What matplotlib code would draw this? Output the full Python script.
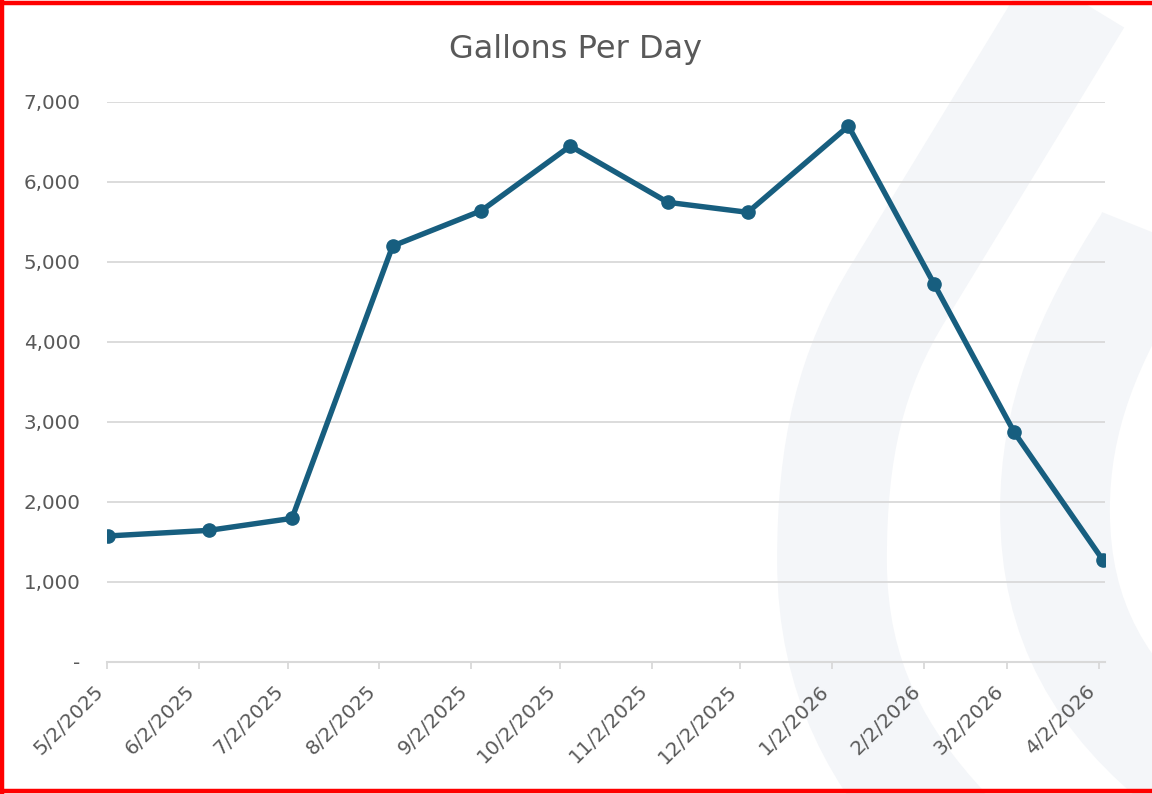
import numpy as np
import pandas as pd
import matplotlib
matplotlib.use('Agg')
import matplotlib.pyplot as plt
from matplotlib.path import Path
from matplotlib.patches import PathPatch
from matplotlib.lines import Line2D
import matplotlib.transforms as mtransforms
from matplotlib.ticker import FuncFormatter

# data
read_dates = ['5/2/2025', '6/5/2025', '7/3/2025', '8/6/2025', '9/5/2025', '10/5/2025',
              '11/7/2025', '12/4/2025', '1/7/2026', '2/5/2026', '3/4/2026', '4/3/2026']
gallons = [1572, 1642, 1792, 5196, 5638, 6446, 5742, 5617, 6696, 4717, 2868, 1268]
tick_dates = ['5/2/2025', '6/2/2025', '7/2/2025', '8/2/2025', '9/2/2025', '10/2/2025',
              '11/2/2025', '12/2/2025', '1/2/2026', '2/2/2026', '3/2/2026', '4/2/2026']
y_ticks = [0, 1000, 2000, 3000, 4000, 5000, 6000, 7000]

grey_txt = '#595959'
grid_c = '#d9d9d9'
line_c = '#175e7f'
W, H = 1152, 794

fig = plt.figure(figsize=(W / 100, H / 100), dpi=100)
fig.patch.set_facecolor('white')

# faint logo watermark behind the chart (figure pixel coords, y down)
def px(x, y):
    return (x / W, 1 - y / H)

bands = [
    [(1095, -30), (900, 290), (850, 370), (832, 450), (832, 560), (832, 680), (880, 760), (945, 830)],
    [(1270, -60), (1150, 240), (1085, 340), (1055, 420), (1055, 510), (1055, 620), (1100, 700), (1190, 770)],
]
codes = [Path.MOVETO, Path.LINETO, Path.CURVE4, Path.CURVE4, Path.CURVE4,
         Path.CURVE4, Path.CURVE4, Path.CURVE4]
for b in bands:
    p = Path([px(*v) for v in b], codes)
    fig.patches.append(PathPatch(p, transform=fig.transFigure, fill=False,
                                 edgecolor='#f4f6f9', linewidth=79, capstyle='butt',
                                 zorder=-5))

ax = fig.add_axes([107 / W, 1 - 661.7 / H, (1104.5 - 107) / W, (661.7 - 101.7) / H])
ax.set_facecolor('none')
ax.set_zorder(1)

x = pd.to_datetime(read_dates, format='%m/%d/%Y') + pd.Timedelta(hours=12)
ax.plot(x, gallons, color=line_c, linewidth=3.9, marker='o', markersize=9.5,
        solid_capstyle='round', zorder=3)

ticks = pd.to_datetime(tick_dates, format='%m/%d/%Y')
ax.set_xticks(ticks)
ax.set_xticklabels(tick_dates, rotation=45, ha='right', va='top',
                   fontsize=14.3, color=grey_txt)
off = mtransforms.ScaledTranslation(7 / 100, 0, fig.dpi_scale_trans)
for lbl in ax.get_xticklabels():
    lbl.set_transform(lbl.get_transform() + off)
ax.set_xlim(pd.Timestamp('2025-05-02'), pd.Timestamp('2026-04-04'))

ax.set_ylim(0, 7000)
ax.set_yticks(y_ticks)
ax.yaxis.set_major_formatter(FuncFormatter(lambda v, p: '-' if v == 0 else f'{int(v):,}'))
for lbl in ax.get_yticklabels():
    lbl.set_fontsize(14.3)
    lbl.set_color(grey_txt)

ax.grid(axis='y', color=grid_c, linewidth=1.3)
ax.set_axisbelow(True)
for s in ['top', 'right', 'left']:
    ax.spines[s].set_visible(False)
ax.spines['bottom'].set_color(grid_c)
ax.spines['bottom'].set_linewidth(1.5)
ax.tick_params(axis='y', length=0, pad=19)
ax.tick_params(axis='x', length=5, width=1.3, color=grid_c, pad=9)

fig.text(0.5, 1 - 58 / H, 'Gallons Per Day', ha='center', va='baseline',
         fontsize=23, color=grey_txt)

# red frame (top, left, bottom)
for xs, ys in [((0, 1), (1 - 3 / H, 1 - 3 / H)), ((1.5 / W, 1.5 / W), (0, 1)),
               ((0, 1), (3.5 / H, 3.5 / H))]:
    fig.lines.append(Line2D(xs, ys, transform=fig.transFigure, color='red', linewidth=3.2))

fig.savefig('out.png', dpi=100)
